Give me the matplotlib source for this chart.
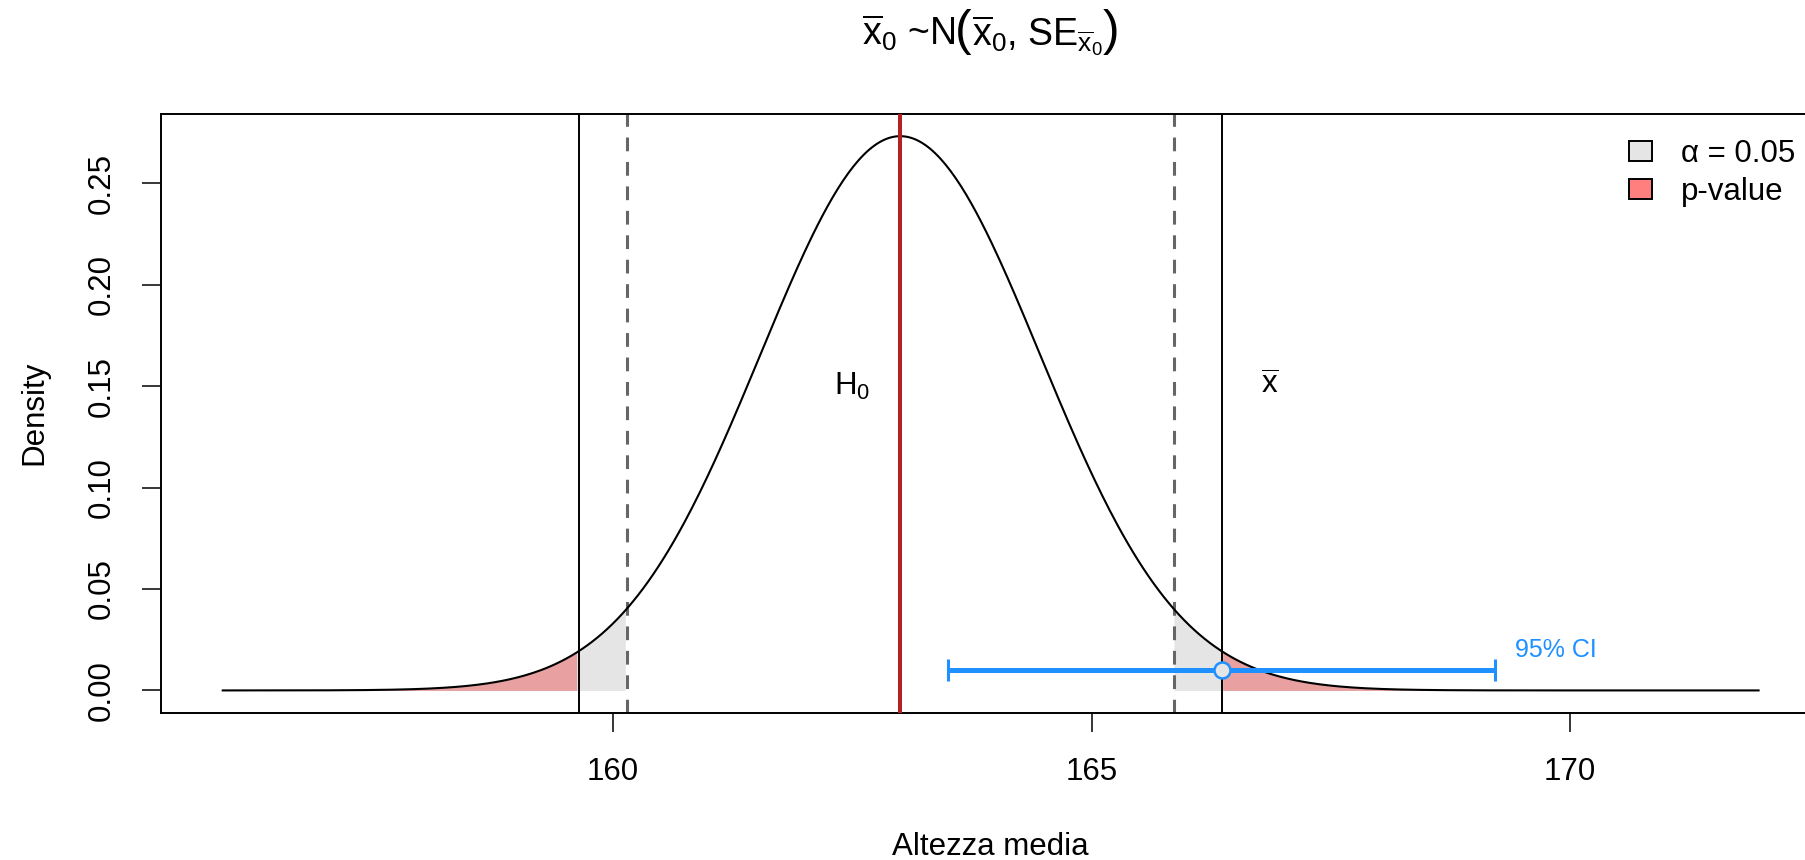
import numpy as np
import matplotlib
matplotlib.use("Agg")
import matplotlib.pyplot as plt
from matplotlib.patches import Patch

plt.rcParams['font.family'] = ['Liberation Sans', 'DejaVu Sans']
plt.rcParams['mathtext.fontset'] = 'custom'
plt.rcParams['mathtext.rm'] = 'Liberation Sans'
plt.rcParams['mathtext.it'] = 'Liberation Sans'
plt.rcParams['mathtext.bf'] = 'Liberation Sans'

# ---- data ----
mu0 = 163.0            # H0 mean
se = 1.46              # standard error
xbar = 166.36          # sample mean
crit_lo = 160.14       # critical values (alpha = 0.05)
crit_hi = 165.86
pval_lo = 159.64       # mirrored sample mean (p-value boundary)
ci_lo = 163.50         # 95% CI
ci_hi = 169.22
ci_y = 0.01
curve_range = [155.92, 171.97]
xticks = [160, 165, 170]
yticks = [0.00, 0.05, 0.10, 0.15, 0.20, 0.25]
legend_labels = ["\u03b1 = 0.05", "p-value"]

W, H = 1805, 860
fig = plt.figure(figsize=(W / 100, H / 100), dpi=100)
left_px, right_px, top_px, bot_px = 161.3, 1820.0, 114.0, 712.6
ax = fig.add_axes([left_px / W, 1 - bot_px / H, (right_px - left_px) / W, (bot_px - top_px) / H])

x = np.linspace(curve_range[0], curve_range[1], 600)
dens = np.exp(-0.5 * ((x - mu0) / se) ** 2) / (se * np.sqrt(2 * np.pi))

gray = "#E5E5E5"
red_fill = "#E8A0A0"
ax.fill_between(x, 0, dens, where=(x <= crit_lo), color=gray, lw=0, interpolate=True)
ax.fill_between(x, 0, dens, where=(x >= crit_hi), color=gray, lw=0, interpolate=True)
ax.fill_between(x, 0, dens, where=(x <= pval_lo), color=red_fill, lw=0, interpolate=True)
ax.fill_between(x, 0, dens, where=(x >= xbar), color=red_fill, lw=0, interpolate=True)

ax.plot(x, dens, color="black", lw=1.5, zorder=3)

for v in (crit_lo, crit_hi):
    ax.axvline(v, color="#666666", lw=2.2, ls=(0, (4.5, 3.5)), zorder=2)
for v in (pval_lo, xbar):
    ax.axvline(v, color="black", lw=1.4, zorder=2)
ax.axvline(mu0, color="#B22222", lw=2.9, zorder=4)

# CI
ax.plot([ci_lo, ci_hi], [ci_y, ci_y], color="#1E90FF", lw=3.6, solid_capstyle="butt", zorder=5)
ax.plot([ci_lo, ci_hi], [ci_y, ci_y], ls="none", marker="|", markersize=16,
        markeredgewidth=2.2, color="#1E90FF", zorder=5)
ax.plot([xbar], [ci_y], marker="o", markersize=11.5, markerfacecolor="#E5E5E5",
        markeredgecolor="#1E90FF", markeredgewidth=1.8, ls="none", zorder=6)
ax.annotate("95% CI", xy=(ci_hi, 0.02), xytext=(14, 0), textcoords="offset points",
            ha="left", va="center", color="#1E90FF", fontsize=18)

ax.text(mu0 - 0.5, 0.15, r"H$_0$", ha="center", va="center", fontsize=22.5)
ax.text(xbar + 0.5, 0.15, r"$\overline{\mathrm{x}}$", ha="center", va="center", fontsize=22.5)

# axes limits as R (4% padding)
xr = curve_range[1] - curve_range[0]
ax.set_xlim(curve_range[0] - 0.04 * xr, curve_range[1] + 0.04 * xr)
ymax = dens.max()
ax.set_ylim(-0.04 * ymax, ymax * 1.04)

ax.set_xticks(xticks)
ax.set_xticklabels([str(t) for t in xticks])
ax.set_yticks(yticks)
ax.set_yticklabels([f"{t:.2f}" for t in yticks])
ax.tick_params(axis="both", direction="out", length=13.7, width=1.1, pad=18.5, labelsize=22.5)
for lab in ax.get_yticklabels():
    lab.set_rotation(90)
    lab.set_va("center")
for sp in ax.spines.values():
    sp.set_linewidth(1.4)

# legend
handles = [Patch(facecolor="#E5E5E5", edgecolor="black", lw=1.4),
           Patch(facecolor="#FF7F7F", edgecolor="black", lw=1.4)]
fig.legend(handles, legend_labels, loc="upper left", bbox_to_anchor=(1629 / W, 1 - 139 / H),
           frameon=False, fontsize=22.5, handlelength=0.72, handleheight=0.64,
           handletextpad=0.93, labelspacing=0.26, borderpad=0, borderaxespad=0)

# title (pieces laid out side by side so the parentheses can be taller)
cx_px = (left_px + right_px) / 2
base_y = 1 - 45 / H
parts = [(r"$\overline{\mathrm{x}}_0$ ~N", 27),
         ("(", 36),
         (r"$\overline{\mathrm{x}}_0$, SE$_{\overline{\mathrm{x}}_0}$", 27),
         (")", 36)]
renderer = fig.canvas.get_renderer()
texts = []
widths = []
for s, fs in parts:
    t = fig.text(0, base_y, s, ha="left", va="baseline", fontsize=fs)
    texts.append(t)
    widths.append(t.get_window_extent(renderer=renderer).width)
total = sum(widths)
xpos = cx_px - total / 2
for t, w in zip(texts, widths):
    t.set_x(xpos / W)
    xpos += w

fig.text(cx_px / W, 1 - 855 / H, "Altezza media", ha="center", va="baseline", fontsize=22.5)
fig.text(34.5 / W, 1 - 413 / H, "Density", ha="center", va="center", rotation=90, fontsize=22.5)

fig.savefig("out.png", dpi=100)
